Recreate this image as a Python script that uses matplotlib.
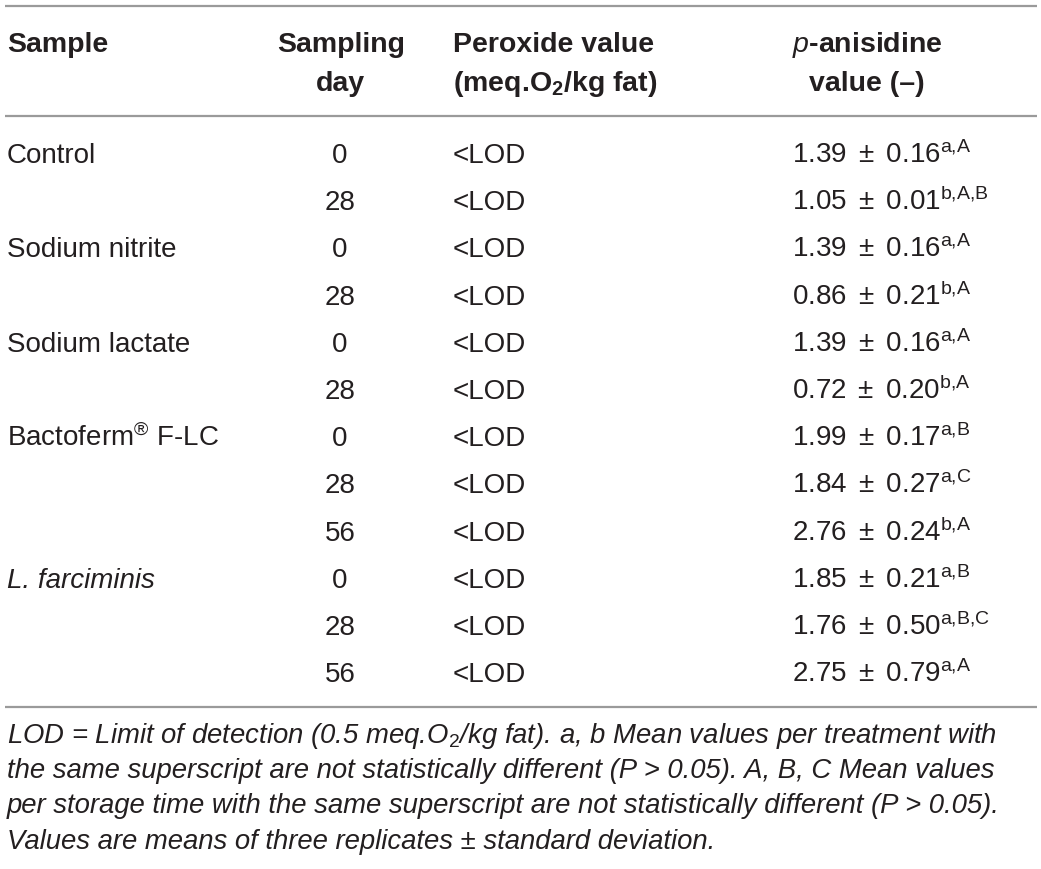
import matplotlib
matplotlib.use("Agg")
import matplotlib.pyplot as plt

plt.rcParams['font.family'] = ['Liberation Sans', 'DejaVu Sans']
plt.rcParams['mathtext.fontset'] = 'custom'
plt.rcParams['mathtext.rm'] = 'Liberation Sans'
plt.rcParams['mathtext.it'] = 'Liberation Sans:italic'
plt.rcParams['mathtext.bf'] = 'Liberation Sans:bold'

# ---- data ----
header_row1 = ["Sample", "Sampling", "Peroxide value", r"$\mathit{p}$-anisidine"]
header_row2 = ["", "day", r"(meq.O$_\mathbf{2}$/kg fat)", "value (–)"]
samples = ["Control", "", "Sodium nitrite", "", "Sodium lactate", "",
           r"Bactoferm$^{\mathrm{®}}$ F-LC", "", "", "L. farciminis", "", ""]
sample_italic = [False, False, False, False, False, False, False, False, False, True, False, False]
days = ["0", "28", "0", "28", "0", "28", "0", "28", "56", "0", "28", "56"]
peroxide = ["<LOD"] * 12
means = ["1.39", "1.05", "1.39", "0.86", "1.39", "0.72", "1.99", "1.84", "2.76", "1.85", "1.76", "2.75"]
sds = ["0.16", "0.01", "0.16", "0.21", "0.16", "0.20", "0.17", "0.27", "0.24", "0.21", "0.50", "0.79"]
letters = ["a,A", "b,A,B", "a,A", "b,A", "a,A", "b,A", "a,B", "a,C", "b,A", "a,B", "a,B,C", "a,A"]
footnote = [
    r"LOD = Limit of detection (0.5 meq.O$_{2}$/kg fat). a, b Mean values per treatment with",
    r"the same superscript are not statistically different (P > 0.05). A, B, C Mean values",
    r"per storage time with the same superscript are not statistically different (P > 0.05).",
    r"Values are means of three replicates ± standard deviation.",
]

# ---- layout ----
W, H = 1041, 869
fig = plt.figure(figsize=(W / 100, H / 100), dpi=100)
ax = fig.add_axes([0, 0, 1, 1])
ax.set_xlim(0, W)
ax.set_ylim(H, 0)
ax.axis("off")

txt = "#231f20"
rule = "#9a9a9a"
fs = 20
hfs = 20.5
for y in (6, 116, 707):
    ax.plot([5, 1037], [y, y], color=rule, lw=1.6, solid_capstyle="butt")

col_x = [7, 341, 453, 867]
col_ha = ["left", "center", "left", "center"]
for i, (h1, h2) in enumerate(zip(header_row1, header_row2)):
    ax.text(col_x[i], 52, h1, ha=col_ha[i], va="baseline", fontsize=hfs,
            fontweight="bold", color=txt)
    if h2:
        ax.text(col_x[i] - (1 if i == 1 else 0), 91, h2, ha=col_ha[i], va="baseline",
                fontsize=hfs, fontweight="bold", color=txt)

y0, dy = 163, 47.2
for r in range(len(days)):
    y = y0 + r * dy
    if samples[r]:
        ax.text(7, y, samples[r], ha="left", va="baseline", fontsize=fs, color=txt,
                fontstyle="italic" if sample_italic[r] else "normal")
    ax.text(340, y, days[r], ha="center", va="baseline", fontsize=fs, color=txt)
    ax.text(453, y, peroxide[r], ha="left", va="baseline", fontsize=fs, color=txt)
    sup = letters[r].replace(",", "{,}")
    label = r"$\mathrm{" + means[r] + r"}\ \pm\ \mathrm{" + sds[r] + r"}^{\mathrm{" + sup + "}}$"
    ax.text(792, y, label, ha="left", va="baseline", fontsize=fs, color=txt)

for k, line in enumerate(footnote):
    ax.text(7, 743 + k * 35.2, line, ha="left", va="baseline", fontsize=19.8,
            fontstyle="italic", color=txt)

fig.savefig("out.png", dpi=100)
